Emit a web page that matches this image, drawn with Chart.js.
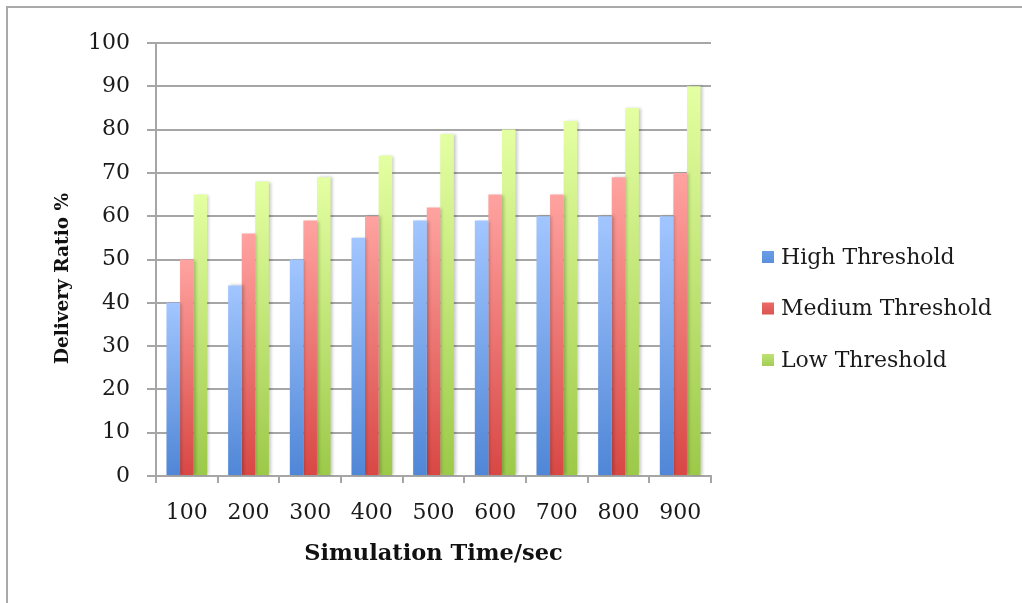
<!DOCTYPE html>
<html>
<head>
<meta charset="utf-8">
<script src="https://cdn.jsdelivr.net/npm/chart.js@4.4.1/dist/chart.umd.min.js"></script>
<style>
  html, body { margin: 0; padding: 0; background: #ffffff; }
  #wrap { position: relative; width: 1022px; height: 603px; overflow: hidden; }
  #frame { position: absolute; left: 6px; top: 6px; width: 1100px; height: 700px;
           border-top: 2px solid #a9a9a9; border-left: 2px solid #a9a9a9; }
  #chart { position: absolute; left: 0; top: 0; }
</style>
</head>
<body>
<div id="wrap">
  <div id="frame"></div>
  <canvas id="chart" width="1022" height="603"></canvas>
</div>
<script>
// Simulation time (sec) per group
const categories = ['100', '200', '300', '400', '500', '600', '700', '800', '900'];
// Delivery ratio (%) for each threshold setting
const highThreshold   = [40, 44, 50, 55, 59, 59, 60, 60, 60];
const mediumThreshold = [50, 56, 59, 60, 62, 65, 65, 69, 70];
const lowThreshold    = [65, 68, 69, 74, 79, 80, 82, 85, 90];
const yTicks = [0, 10, 20, 30, 40, 50, 60, 70, 80, 90, 100];
const seriesNames = ['High Threshold', 'Medium Threshold', 'Low Threshold'];
const yTitle = 'Delivery Ratio %';
const xTitle = 'Simulation Time/sec';

const FONT = "'DejaVu Serif', serif";

// Vertical gradient per bar: light at the top, deeper at the base
function barGradient(light, dark, solid) {
  return function (ctx) {
    const chart = ctx.chart;
    const y = chart.scales && chart.scales.y;
    if (!chart.chartArea || !y || ctx.raw === undefined) return solid;
    const top = y.getPixelForValue(ctx.raw);
    const base = y.getPixelForValue(0);
    if (!isFinite(top) || !isFinite(base) || top === base) return solid;
    const g = chart.ctx.createLinearGradient(0, top, 0, base);
    g.addColorStop(0, light);
    g.addColorStop(1, dark);
    return g;
  };
}

const series = [
  { label: seriesNames[0], data: highThreshold,   light: '#a2c6ff', dark: '#4f86d6', solid: '#5a8fdc', key: '#6a9de6' },
  { label: seriesNames[1], data: mediumThreshold, light: '#ffa3a0', dark: '#d84744', solid: '#dc5450', key: '#ea6c68' },
  { label: seriesNames[2], data: lowThreshold,    light: '#e4ffa2', dark: '#9cc948', solid: '#a5cd55', key: '#bde274' }
];

// Soft shadow to the right of the bars
const barShadow = {
  id: 'barShadow',
  beforeDatasetsDraw(chart) {
    const c = chart.ctx;
    c.save();
    c.shadowColor = 'rgba(0,0,0,0.22)';
    c.shadowBlur = 3;
    c.shadowOffsetX = 2;
    c.shadowOffsetY = 0;
  },
  afterDatasetsDraw(chart) {
    chart.ctx.restore();
  }
};

// Rotated y-axis title, centred on the plot plus the category label band
const yAxisTitle = {
  id: 'yAxisTitle',
  afterDraw(chart) {
    const c = chart.ctx;
    const area = chart.chartArea;
    c.save();
    c.translate(63, (area.top + area.bottom + 38) / 2);
    c.rotate(-Math.PI / 2);
    c.font = "bold 18.5px " + FONT;
    c.fillStyle = '#111';
    c.textAlign = 'center';
    c.textBaseline = 'middle';
    c.fillText(yTitle, 0, 0);
    c.restore();
  }
};

// Legend stacked to the right of the plot
const sideLegend = {
  id: 'sideLegend',
  afterDraw(chart) {
    const c = chart.ctx;
    const area = chart.chartArea;
    const x0 = area.right + 51;
    const rowY = [257, 308.5, 360];
    c.save();
    c.font = "22px " + FONT;
    c.textAlign = 'left';
    c.textBaseline = 'middle';
    chart.data.datasets.forEach((ds, i) => {
      const cy = rowY[i];
      const g = c.createLinearGradient(0, cy - 6, 0, cy + 6);
      g.addColorStop(0, ds.legendKey);
      g.addColorStop(1, ds.legendColor);
      c.fillStyle = g;
      c.fillRect(x0, cy - 6, 12, 12);
      c.fillStyle = '#1a1a1a';
      c.fillText(ds.label, x0 + 19, cy + 1);
    });
    c.restore();
  }
};

new Chart(document.getElementById('chart'), {
  type: 'bar',
  data: {
    labels: categories,
    datasets: series.map(s => ({
      label: s.label,
      data: s.data,
      backgroundColor: barGradient(s.light, s.dark, s.solid),
      legendColor: s.solid,
      legendKey: s.key,
      borderWidth: 0,
      categoryPercentage: 0.66,
      barPercentage: 1.0
    }))
  },
  options: {
    responsive: false,
    animation: false,
    devicePixelRatio: 1,
    layout: { padding: { left: 30, top: 43, right: 311, bottom: 0 } },
    plugins: {
      tooltip: { enabled: false },
      legend: { display: false }
    },
    scales: {
      x: {
        offset: true,
        grid: {
          display: true,
          drawOnChartArea: false,
          offset: true,
          tickLength: 7,
          color: '#a6a6a6',
          lineWidth: 2
        },
        border: { display: true, color: '#a6a6a6', width: 2 },
        ticks: {
          color: '#1a1a1a',
          font: { family: FONT, size: 22 },
          padding: 17,
          maxRotation: 0
        },
        title: {
          display: true,
          text: xTitle,
          color: '#111',
          font: { family: FONT, size: 22.5, weight: 'bold' },
          padding: { top: 0, bottom: 35 }
        },
        afterFit(scale) { scale.height = 127; }
      },
      y: {
        min: 0,
        max: 100,
        afterBuildTicks(scale) { scale.ticks = yTicks.map(v => ({ value: v })); },
        grid: {
          color: '#a6a6a6',
          lineWidth: 2,
          tickLength: 9
        },
        border: { display: true, color: '#a6a6a6', width: 2 },
        ticks: {
          color: '#1a1a1a',
          font: { family: FONT, size: 22 },
          padding: 17
        },
        title: { display: false },
        afterFit(scale) { scale.width = 126; }
      }
    }
  },
  plugins: [barShadow, yAxisTitle, sideLegend]
});
</script>
</body>
</html>
